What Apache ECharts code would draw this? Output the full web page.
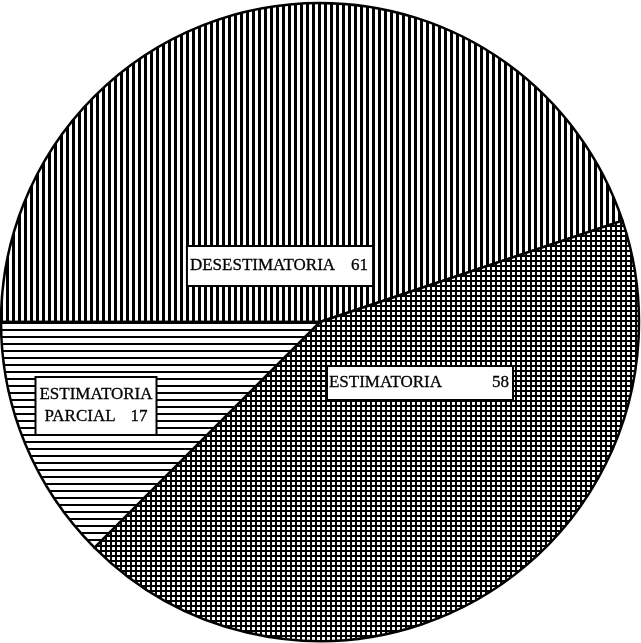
<!DOCTYPE html>
<html>
<head>
<meta charset="utf-8">
<script src="https://cdn.jsdelivr.net/npm/echarts@6/dist/echarts.min.js"></script>
<style>
html,body{margin:0;padding:0;background:#fff;}
#c{width:641px;height:643px;}
</style>
</head>
<body>
<div id="c"></div>
<script>
// Data
var categories = ['DESESTIMATORIA', 'ESTIMATORIA', 'ESTIMATORIA PARCIAL'];
var values = [61, 58, 17];
var labelNames = ['DESESTIMATORIA', 'ESTIMATORIA', 'ESTIMATORIA\nPARCIAL'];

// Styles / layout
var labelPos = [[280, 266], [420, 383], [96, 406]];
var labelPad = [[8, 4, 8, 2], [5, 3, 5, 1], [6, 3, 6, 3]];
var valueGap = [16, 50, 15];

function makePattern(kind) {
  var c = document.createElement('canvas');
  var ctx;
  if (kind === 'v') {
    c.width = 6; c.height = 6; ctx = c.getContext('2d');
    ctx.fillStyle = '#fff'; ctx.fillRect(0, 0, 6, 6);
    ctx.fillStyle = '#000'; ctx.fillRect(0, 0, 3, 6);
  } else if (kind === 'h') {
    c.width = 7; c.height = 7; ctx = c.getContext('2d');
    ctx.fillStyle = '#fff'; ctx.fillRect(0, 0, 7, 7);
    ctx.fillStyle = '#000'; ctx.fillRect(0, 0, 7, 2);
  } else {
    c.width = 5; c.height = 5; ctx = c.getContext('2d');
    ctx.fillStyle = '#fff'; ctx.fillRect(0, 0, 5, 5);
    ctx.fillStyle = '#000'; ctx.fillRect(0, 0, 5, 2); ctx.fillRect(0, 0, 2, 5);
  }
  return { image: c, repeat: 'repeat' };
}
var patterns = [makePattern('v'), makePattern('x'), makePattern('h')];

var textStyle = { fontFamily: 'Liberation Serif', fontSize: 17, lineHeight: 22, color: '#000', textBorderColor: '#000', textBorderWidth: 0.3 };

var chart = echarts.init(document.getElementById('c'), null, { renderer: 'canvas' });
chart.setOption({
  animation: false,
  backgroundColor: '#fff',
  series: [{
    type: 'pie',
    center: [320, 322],
    radius: [0, 319],
    startAngle: 180,
    clockwise: true,
    avoidLabelOverlap: false,
    itemStyle: { borderColor: '#000', borderWidth: 2.5 },
    label: Object.assign({
      show: true,
      position: 'inside',
      backgroundColor: '#fff',
      borderColor: '#000',
      borderWidth: 2,
      align: 'left'
    }, textStyle),
    labelLine: { show: false },
    labelLayout: function (p) {
      var pos = labelPos[p.dataIndex];
      return { x: pos[0], y: pos[1], align: 'center', verticalAlign: 'middle' };
    },
    emphasis: { disabled: true },
    data: categories.map(function (n, i) {
      var rich = { n: Object.assign({}, textStyle), v: Object.assign({ padding: [0, 0, 0, valueGap[i]] }, textStyle) };
      return {
        name: n, value: values[i],
        itemStyle: { color: patterns[i] },
        label: {
          padding: labelPad[i],
          rich: rich,
          formatter: function () {
            var parts = labelNames[i].split('\n');
            var last = parts.pop();
            var out = parts.map(function (s) { return '{n|' + s + '}'; });
            out.push('{n|' + last + '}{v|' + values[i] + '}');
            return out.join('\n');
          }
        }
      };
    })
  }]
});
</script>
</body>
</html>
